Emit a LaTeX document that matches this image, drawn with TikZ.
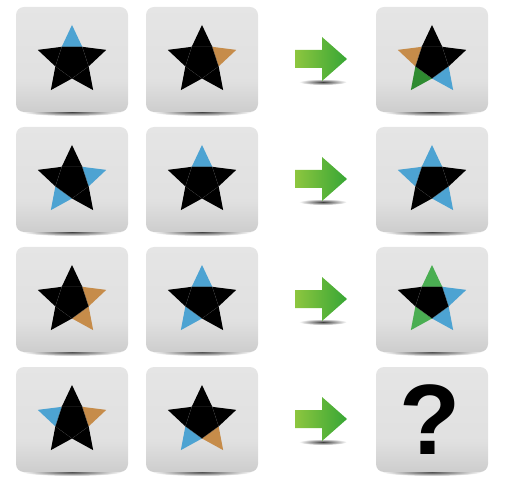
\documentclass[tikz,border=0pt]{standalone}
\usepackage{fontspec}
\newfontfamily\queryfont{Liberation Sans}
\definecolor{starblue}{HTML}{4DA3D2}
\definecolor{startan}{HTML}{C68C4A}
\definecolor{stargreen}{HTML}{4AAE52}
\definecolor{stardkgreen}{HTML}{2E8B30}
\definecolor{arrowlight}{HTML}{8DC63F}
\definecolor{arrowdark}{HTML}{37A635}
\pgfdeclareverticalshading{tileshade}{100bp}{color(0bp)=(black!40); color(10bp)=(black!27); color(40bp)=(black!12); color(100bp)=(black!9)}

% star at #1, point colours: top, right, lower right, lower left, left
\newcommand{\puzzlestar}[6]{%
  \begin{scope}[shift={#1}]
    \fill[black] (54:17.5) -- (-18:17.5) -- (-90:17.5) -- (-162:17.5) -- (126:17.5) -- cycle;
    \foreach \col [count=\k from 0] in {#2,#3,#4,#5,#6}
      \fill[\col] ({90-72*\k}:36) -- ({54-72*\k}:17.5) -- ({126-72*\k}:17.5) -- cycle;
    \draw[black!78, line width=0.2pt] (54:17.5) -- (-18:17.5) -- (-90:17.5) -- (-162:17.5) -- (126:17.5) -- cycle;
  \end{scope}}

\begin{document}
\begin{tikzpicture}[x=1pt, y=1pt,
    tile/.style={shading=tileshade, rounded corners=8pt},
    dropshadow/.style={inner color=black!75, outer color=white}]
  \useasboundingbox (0,0) rectangle (508,493);
  % tiles
  \foreach \x in {16,146,376}
    \foreach \y in {381,261,141,21} {
      \shade[dropshadow] (\x+56,\y) ellipse (50 and 4);
      \shade[tile] (\x,\y) rectangle ++(112,105);
    }
  % arrows
  \foreach \y in {434,314,194,74} {
    \shade[dropshadow] (323,\y-23) ellipse (24 and 3);
    \shade[left color=arrowlight, right color=arrowdark]
      (295,\y+9) -- (322,\y+9) -- (322,\y+22) -- (347,\y) -- (322,\y-22) -- (322,\y-9) -- (295,\y-9) -- cycle;
  }
  % row 1
  \puzzlestar{(72,432)}{starblue}{black}{black}{black}{black}
  \puzzlestar{(202,432)}{black}{startan}{black}{black}{black}
  \puzzlestar{(432,432)}{black}{black}{starblue}{stardkgreen}{startan}
  % row 2
  \puzzlestar{(72,312)}{black}{starblue}{black}{starblue}{black}
  \puzzlestar{(202,312)}{starblue}{black}{black}{black}{black}
  \puzzlestar{(432,312)}{starblue}{black}{starblue}{black}{starblue}
  % row 3
  \puzzlestar{(72,192)}{black}{startan}{startan}{black}{black}
  \puzzlestar{(202,192)}{starblue}{black}{black}{starblue}{black}
  \puzzlestar{(432,192)}{stargreen}{starblue}{starblue}{stargreen}{black}
  % row 4
  \puzzlestar{(72,72)}{black}{startan}{black}{black}{starblue}
  \puzzlestar{(202,72)}{black}{black}{startan}{starblue}{black}
  \node[inner sep=0pt, font=\queryfont\bfseries\fontsize{100}{100}\selectfont] (query) at (430,73) {?};
\end{tikzpicture}
\end{document}
